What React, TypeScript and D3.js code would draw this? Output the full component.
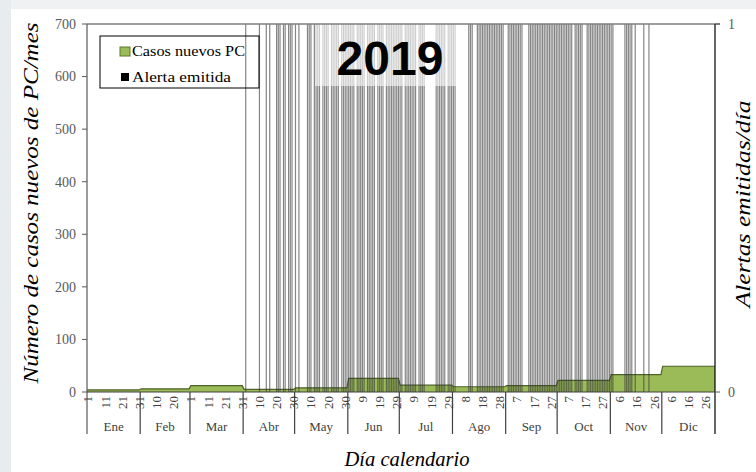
import React from 'react';
import * as d3 from 'd3';

const months = ["Ene", "Feb", "Mar", "Abr", "May", "Jun", "Jul", "Ago", "Sep", "Oct", "Nov", "Dic"];
const monthDays = [31, 29, 31, 30, 31, 30, 31, 31, 30, 31, 30, 31];
const monthlyCases = [4, 6, 12, 5, 8, 26, 13, 10, 12, 22, 33, 49];

const dayTicks = [1, 11, 21, 31, 41, 51, 61, 71, 81, 91, 101, 111, 121, 131, 141, 151, 161, 171, 181, 191, 201, 211, 221, 231, 241, 251, 261, 271, 281, 291, 301, 311, 321, 331, 341, 351, 361];
const dayTickLabels = ["1", "11", "21", "31", "10", "20", "1", "11", "21", "31", "10", "20", "30", "10", "20", "30", "9", "19", "29", "9", "19", "29", "8", "18", "28", "7", "17", "27", "7", "17", "27", "6", "16", "26", "6", "16", "26"];

const alertDays = [
  93, 101, 105, 107, 111, 112, 113, 115, 116, 118, 119, 120, 122, 124,
  129, 130, 131, 133, 134, 135, 136, 138, 139, 140, 141, 143, 144, 145, 146, 147, 149, 150, 151, 152,
  153, 154, 155, 156, 158, 159, 160, 161, 162, 164, 165, 166, 167, 168, 170, 171, 172, 173, 175, 176, 177, 178, 179, 180, 181, 182,
  183, 184, 186, 187, 188, 189, 190, 191, 192, 194, 195, 196, 197, 204, 205, 206, 207, 208, 209, 211, 212, 213,
  214, 215, 223, 224, 225, 228, 229, 230, 231, 232, 233, 234, 235, 236, 237, 238, 239, 240, 241, 242, 243,
  246, 247, 248, 249, 250, 251, 252, 253, 254, 258, 259, 260, 261, 262, 263, 264, 265, 266, 267, 268, 269, 270, 271, 272, 273, 274,
  275, 276, 277, 278, 279, 280, 281, 282, 283, 285, 286, 287, 288, 289, 292, 293, 294, 295, 296, 297, 298, 299, 300, 301, 302, 303, 304, 305,
  306, 307, 314, 315, 316, 317, 318, 320, 325, 328,
];

const leftTicks = [0, 100, 200, 300, 400, 500, 600, 700];
const rightTicks = [0, 1];

const SERIF = "'Liberation Serif', 'DejaVu Serif', serif";

export default function App() {
  const W = 756, H = 472;
  const x0 = 87, x1 = 715, yTop = 24, yBot = 392, sepBottom = 434;
  const x = d3.scaleLinear().domain([0.5, 366.5]).range([x0, x1]);
  const y = d3.scaleLinear().domain([0, 700]).range([yBot, yTop]);
  const y2 = d3.scaleLinear().domain([0, 1]).range([yBot, yTop]);

  const starts: number[] = [];
  let acc = 0;
  monthDays.forEach((n) => { starts.push(acc); acc += n; });

  const daily: { day: number; value: number }[] = [];
  months.forEach((_, m) => {
    for (let i = 1; i <= monthDays[m]; i++) daily.push({ day: starts[m] + i, value: monthlyCases[m] });
  });
  const pts = [{ day: 0.5, value: monthlyCases[0] }, ...daily, { day: 366.5, value: monthlyCases[11] }];
  const area = d3.area<{ day: number; value: number }>()
    .x((d) => x(d.day)).y0(y(0)).y1((d) => y(d.value));
  const line = d3.line<{ day: number; value: number }>()
    .x((d) => x(d.day)).y((d) => y(d.value));

  return (
    <svg width={W} height={H} style={{ position: 'absolute', left: 0, top: 0 }}>
      <rect x={0} y={0} width={W} height={H} fill="#ffffff" />
      <rect x={0} y={0} width={W} height={9} fill="#eff1f3" />
      <rect x={0} y={0} width={11} height={H} fill="#e9ecef" />

      {/* green area */}
      <path d={area(pts) || ''} fill="#9bbb59" />
      <path d={line(pts) || ''} fill="none" stroke="#4f6228" strokeWidth={1.2} />

      {/* alert lines */}
      {alertDays.map((d, i) => (
        <line key={i} x1={x(d)} x2={x(d)} y1={y2(0)} y2={y2(1)} stroke="#333333" strokeOpacity={0.6} strokeWidth={1.2} />
      ))}

      {/* 2019 label box */}
      <rect x={315} y={yTop} width={142} height={62} fill="#ffffff" fillOpacity={0.6} />
      <text x={390} y={75} textAnchor="middle" fontFamily="'Liberation Sans', Arial, sans-serif" fontWeight="bold" fontSize={48} fill="#000">2019</text>

      {/* top border */}
      <line x1={x0} x2={x1 + 5} y1={yTop} y2={yTop} stroke="#7f7f7f" strokeWidth={1.5} />

      {/* left axis */}
      <line x1={x0} x2={x0} y1={yTop} y2={sepBottom} stroke="#595959" strokeWidth={1.2} />
      {leftTicks.map((t) => (
        <g key={t}>
          <line x1={x0 - 5} x2={x0} y1={y(t)} y2={y(t)} stroke="#595959" />
          <text x={76} y={y(t)} dy="0.35em" textAnchor="end" fontFamily={SERIF} fontSize={14} fill="#595959">{t}</text>
        </g>
      ))}

      {/* right axis */}
      <line x1={x1} x2={x1} y1={yTop} y2={sepBottom} stroke="#000" strokeWidth={1.2} />
      {rightTicks.map((t) => (
        <g key={t}>
          <line x1={x1} x2={x1 + 5} y1={y2(t)} y2={y2(t)} stroke="#595959" />
          <text x={728} y={y2(t)} dy="0.35em" textAnchor="start" fontFamily={SERIF} fontSize={14} fill="#595959">{t}</text>
        </g>
      ))}

      {/* bottom axis */}
      <line x1={x0} x2={x1} y1={yBot} y2={yBot} stroke="#404040" strokeWidth={1.2} />
      {starts.slice(1).map((s, i) => (
        <line key={i} x1={x(s + 0.5)} x2={x(s + 0.5)} y1={yBot} y2={sepBottom} stroke="#404040" strokeWidth={1.2} />
      ))}
      {dayTicks.map((d, i) => (
        <text key={i} transform={`translate(${x(d)},${yBot + 4}) rotate(-90)`} dy="0.35em" textAnchor="end" fontFamily={SERIF} fontSize={13} fill="#404040">{dayTickLabels[i]}</text>
      ))}
      {months.map((m, i) => (
        <text key={m} x={x(starts[i] + monthDays[i] / 2 + 0.5)} y={431} textAnchor="middle" fontFamily={SERIF} fontSize={13} fill="#404040">{m}</text>
      ))}

      {/* legend */}
      <rect x={100} y={36} width={159} height={52} fill="none" stroke="#000" strokeWidth={1} />
      <rect x={120} y={47} width={10} height={9} fill="#9bbb59" stroke="#5d7a2a" strokeWidth={1} />
      <text x={132} y={56} fontFamily={SERIF} fontSize={15} fill="#000" textLength={113} lengthAdjust="spacingAndGlyphs">Casos nuevos PC</text>
      <rect x={121} y={73} width={8} height={8} fill="#000" />
      <text x={132} y={82} fontFamily={SERIF} fontSize={15} fill="#000" textLength={99} lengthAdjust="spacingAndGlyphs">Alerta emitida</text>

      {/* axis titles */}
      <text transform={`translate(38,203) rotate(-90)`} textAnchor="middle" fontFamily={SERIF} fontStyle="italic" fontSize={20} fill="#000" textLength={361} lengthAdjust="spacingAndGlyphs">Número de casos nuevos de PC/mes</text>
      <text transform={`translate(750,204) rotate(-90)`} textAnchor="middle" fontFamily={SERIF} fontStyle="italic" fontSize={20} fill="#000" textLength={207} lengthAdjust="spacingAndGlyphs">Alertas emitidas/día</text>
      <text x={407} y={466} textAnchor="middle" fontFamily={SERIF} fontStyle="italic" fontSize={20} fill="#000" textLength={125} lengthAdjust="spacingAndGlyphs">Día calendario</text>
    </svg>
  );
}
